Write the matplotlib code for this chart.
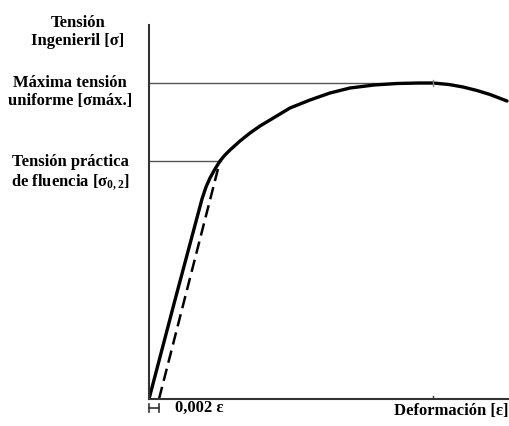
import matplotlib.pyplot as plt

plt.rcParams['mathtext.fontset'] = 'custom'
plt.rcParams['mathtext.rm'] = 'Liberation Serif:bold'
plt.rcParams['mathtext.it'] = 'Liberation Serif:bold'
plt.rcParams['mathtext.bf'] = 'Liberation Serif:bold'

# Curva tensión-deformación (unidades arbitrarias)
strain = [0.0, 0.0052, 0.0106, 0.0114, 0.0122, 0.0132, 0.0142, 0.0152,
          0.0162, 0.0182, 0.0202, 0.0222, 0.0242, 0.0282, 0.0322,
          0.0362, 0.0402, 0.0450, 0.0496, 0.0540, 0.0568, 0.0600,
          0.0628, 0.0656, 0.0682, 0.0716]
stress = [0, 99, 200, 212, 221, 230, 238, 244,
          249, 258, 266, 273, 279, 291, 299,
          306, 311, 314, 315.5, 316, 316, 314.5,
          312, 308.5, 304.5, 298]

offset = 0.002
yield_strain = 0.0142
yield_stress = 238
max_strain = 0.0568
max_stress = 316

fig = plt.figure(figsize=(5.09, 4.26), dpi=100)
ax = fig.add_axes([149 / 509, 27 / 426, 360 / 509, 374 / 426])
ax.set_xlim(0, 0.072)
ax.set_ylim(0, 374)

for s in ['top', 'right']:
    ax.spines[s].set_visible(False)
for s in ['left', 'bottom']:
    ax.spines[s].set_color('#333333')
    ax.spines[s].set_linewidth(1.5)
ax.set_xticks([])
ax.set_yticks([])

# líneas de referencia
ax.plot([0, max_strain], [max_stress, max_stress], color='#555555', lw=1)
ax.plot([0, yield_strain + 0.0002], [yield_stress, yield_stress], color='#555555', lw=1)

# curva
ax.plot(strain, stress, color='black', lw=2.4, solid_capstyle='round',
        solid_joinstyle='round')
# recta paralela desplazada 0,2%
ax.plot([offset, yield_strain], [0, yield_stress], color='black', lw=1.8,
        ls=(0, (5, 2.5)))

# marcas pequeñas
ax.plot([max_strain, max_strain], [max_stress - 3, max_stress + 3], color='#888888', lw=1)
ax.plot([max_strain, max_strain], [0, 3], color='#333333', lw=1)

font = dict(family='Liberation Serif', weight='bold', fontsize=12)
fig.text(78 / 509, 1 - 32 / 426, 'Tensión\nIngenieril [σ]', ha='center', va='center',
         linespacing=1.2, **font)
fig.text(70 / 509, 1 - 92 / 426, 'Máxima tensión\nuniforme [σmáx.]', ha='center',
         va='center', linespacing=1.2, **font)
fig.text(70 / 509, 1 - 162 / 426, 'Tensión práctica', ha='center', va='center', **font)
fig.text(70 / 509, 1 - 182 / 426, 'de fluencia [$\\sigma_{0,2}$]', ha='center',
         va='center', **font)
fig.text(175 / 509, 1 - 408 / 426, '0,002 ε', ha='left', va='center', **font)
fig.text(508 / 509, 1 - 411 / 426, 'Deformación [ε]', ha='right', va='center', **font)

# marca del desplazamiento 0,002
ax.plot([0, offset], [-9, -9], color='#333333', lw=1.2, clip_on=False)
ax.plot([0, 0], [-13, -5], color='#333333', lw=1.2, clip_on=False)
ax.plot([offset, offset], [-13, -5], color='#333333', lw=1.2, clip_on=False)

fig.savefig('out.png', dpi=100)
